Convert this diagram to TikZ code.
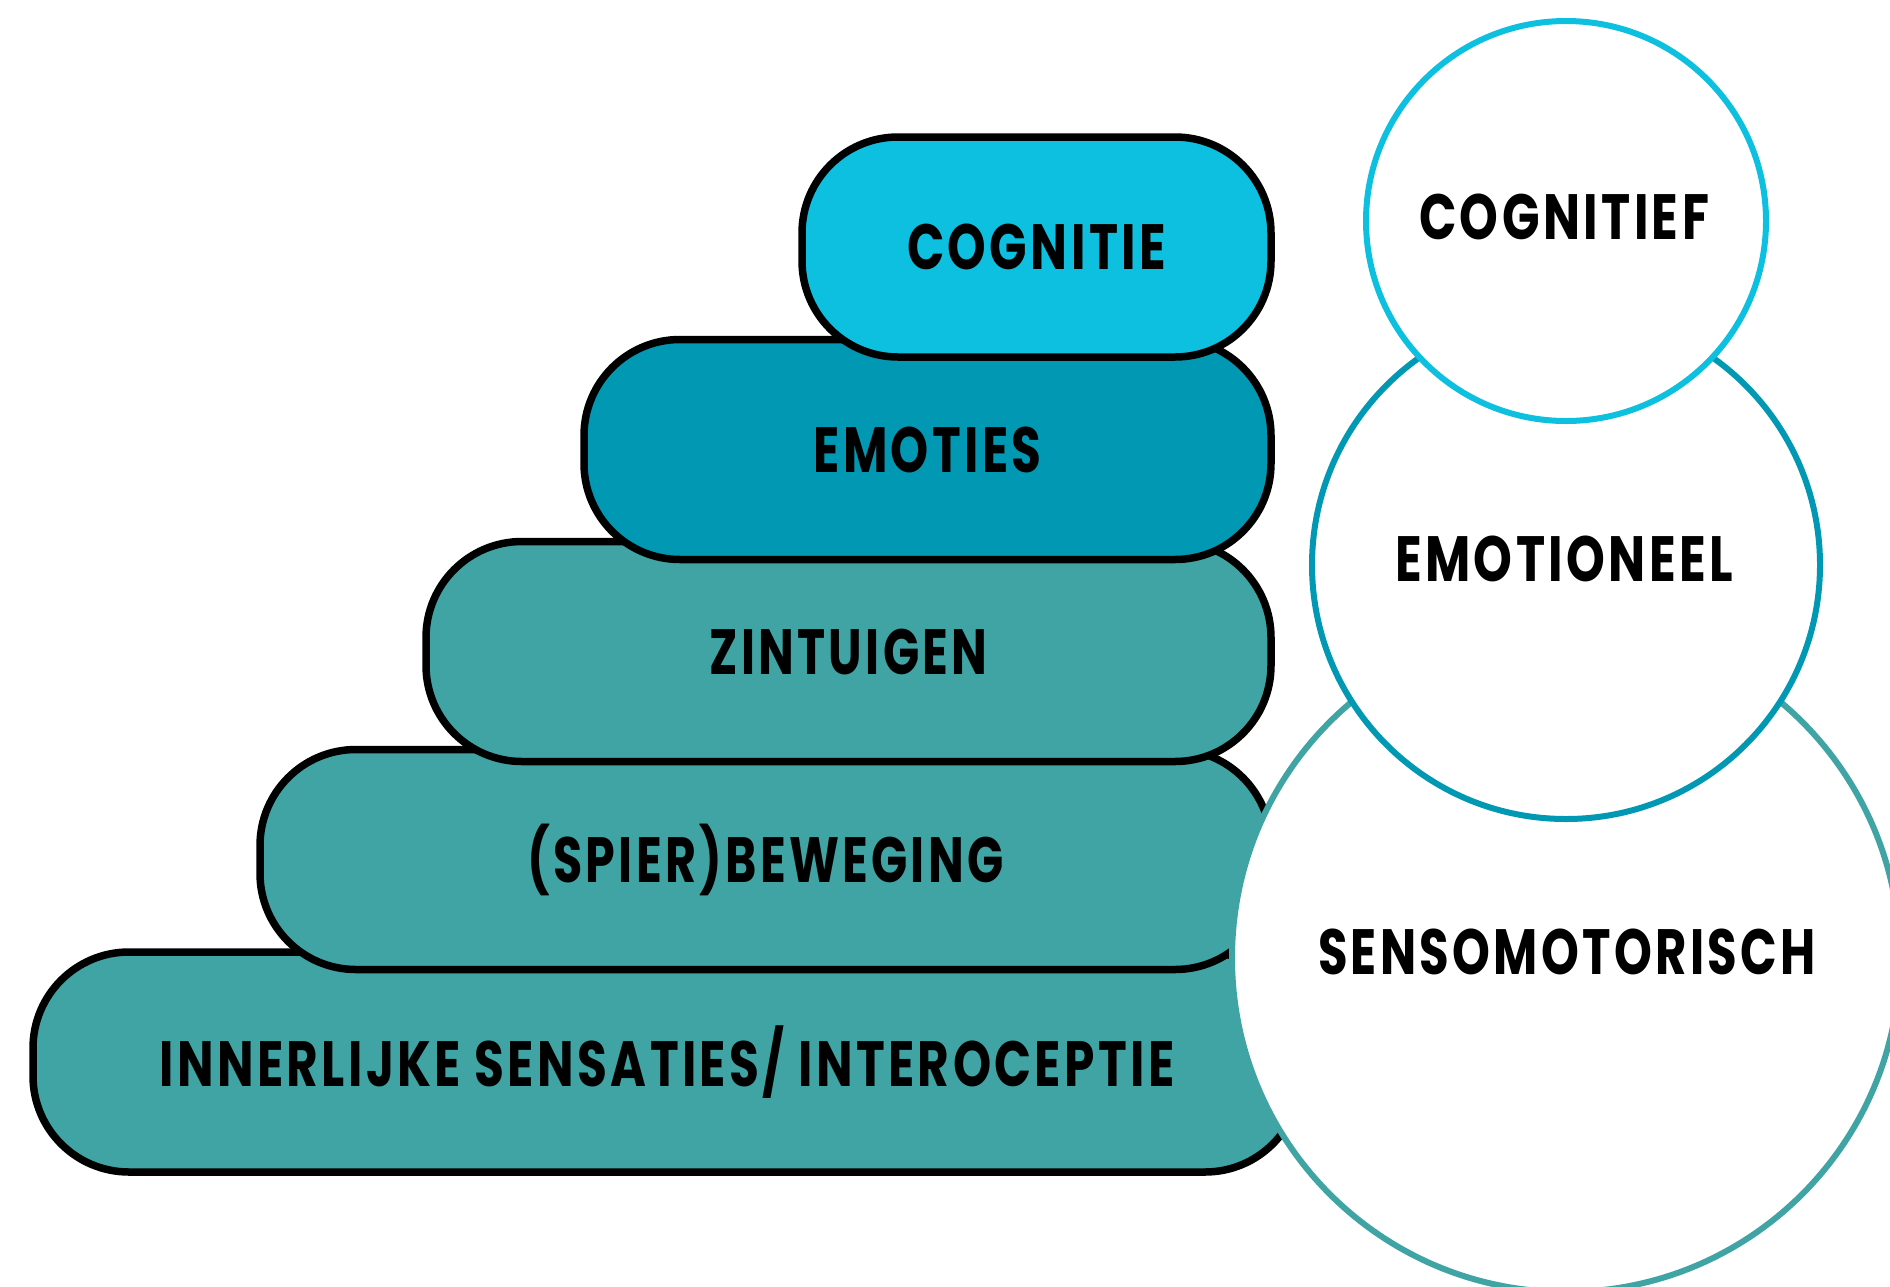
\documentclass[tikz,border=0pt]{standalone}
\usepackage{fontspec}
\usepackage{graphicx}
\newfontfamily\lblfont[FakeStretch=0.72,LetterSpace=5]{Poppins}
\definecolor{cCog}{HTML}{0EC0DF}
\definecolor{cEmo}{HTML}{0098B3}
\definecolor{cSen}{HTML}{40A4A4}
\newcommand{\lbl}[2]{\resizebox{#1pt}{\height}{\fontsize{64}{70}\selectfont\lblfont\bfseries #2}}
\tikzset{
  stepbox/.style={draw=black, line width=7.5pt, rounded corners=96pt, minimum height=220pt, inner sep=0pt, text=black},
  ring/.style={circle, draw, fill=white, line width=6pt, inner sep=0pt, text=black}
}
\begin{document}
\begin{tikzpicture}[x=1pt,y=-1pt]
\useasboundingbox (0,0) rectangle (1890,1286);
\clip (0,0) rectangle (1890,1286);
% steps, from bottom to top
\node[stepbox, fill=cSen, minimum width=1268pt] (inn) at (667,1062) {\lbl{1015}{INNERLIJKE SENSATIES/ INTEROCEPTIE}};
\node[stepbox, fill=cSen, minimum width=1011pt] (spi) at (765.5,859.5) {\lbl{476}{(SPIER)BEWEGING}};
\node[stepbox, fill=cSen, minimum width=845pt] (zin) at (848.5,651.5) {\lbl{278}{ZINTUIGEN}};
\node[stepbox, fill=cEmo, minimum width=687pt] (emo) at (927.5,449.5) {\lbl{228}{EMOTIES}};
\node[stepbox, fill=cCog, minimum width=469pt] (cog) at (1036.5,247) {\lbl{259}{COGNITIE}};
% circles
\node[ring, draw=cSen, minimum size=668pt] (sen) at (1566,958) {};
\node[ring, draw=cEmo, minimum size=508pt] (emoc) at (1566,565) {};
\node[ring, draw=cCog, minimum size=400pt] (cogc) at (1566,221) {};
\node (sent) at (1567,952) {\lbl{498}{SENSOMOTORISCH}};
\node (emot) at (1564,559) {\lbl{338}{EMOTIONEEL}};
\node (cogt) at (1564,217) {\lbl{290}{COGNITIEF}};
\end{tikzpicture}
\end{document}
